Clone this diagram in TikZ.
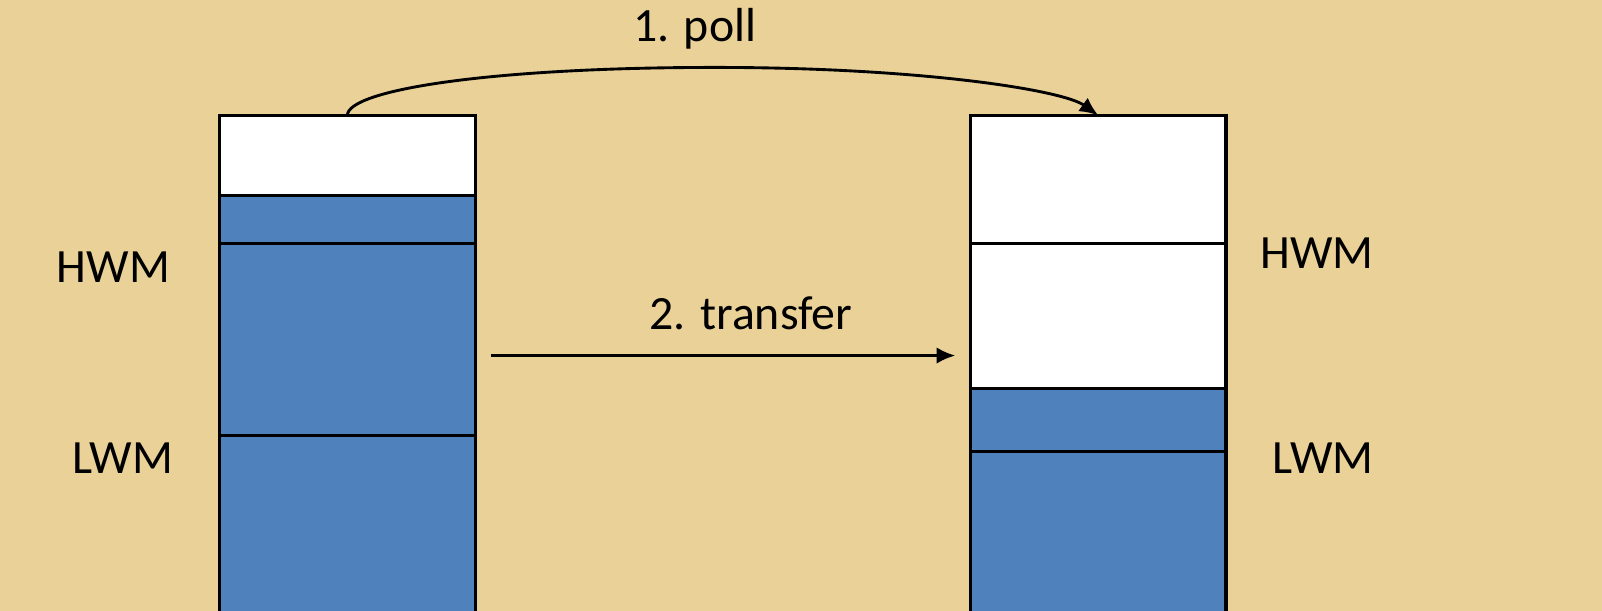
\documentclass[tikz,border=0pt]{standalone}
\usepackage{fontspec}
\setmainfont{Carlito}
\usetikzlibrary{arrows.meta}
\definecolor{papyrus}{RGB}{233,209,152}
\definecolor{qblue}{RGB}{79,129,189}
\tikzset{
  seg/.style={draw=black, line width=0.9pt, inner sep=0pt, outer sep=0pt, minimum width=2.5cm, anchor=north},
  empty/.style={seg, fill=white},
  full/.style={seg, fill=qblue},
  lbl/.style={font=\fontsize{13.3}{15}\selectfont, inner sep=0pt},
  arr/.style={line width=0.8pt, -{Latex[length=5.2pt,width=4.6pt]}}
}
\begin{document}
\begin{tikzpicture}[x=0.01cm,y=-0.01cm]
\useasboundingbox (0,0) rectangle (1568,598);
\clip (0,0) rectangle (1568,598);
\fill[papyrus] (0,0) rectangle (1568,598);
% left queue
\node[empty, minimum height=0.78cm] (l1) at (340,113) {};
\node[full, minimum height=0.47cm] (l2) at (l1.south) {};
\node[full, minimum height=1.88cm] (l3) at (l2.south) {};
\node[full, minimum height=2.0cm] (l4) at (l3.south) {};
% right queue
\node[empty, minimum height=1.25cm] (r1) at (1075,113) {};
\node[empty, minimum height=1.42cm] (r2) at (r1.south) {};
\node[full, minimum height=0.62cm] (r3) at (r2.south) {};
\node[full, minimum height=1.8cm] (r4) at (r3.south) {};
% labels
\node[lbl, anchor=east] (hl) at (167,262) {HWM};
\node[lbl, anchor=east] (ll) at (170,448) {LWM};
\node[lbl, anchor=east] (hr) at (1345,248) {HWM};
\node[lbl, anchor=east] (lr) at (1345,448) {LWM};
\node[lbl] (poll) at (680,28) {1. poll};
\node[lbl] (tr) at (735,307) {2. transfer};
% arrows
\coordinate (ta) at (481,348);
\coordinate (tb) at (935,348);
\draw[arr] (ta) -- (tb);
\coordinate (pk) at (700,66);
\draw[arr] (l1.north) .. controls (340,88) and (480,66) .. (pk) .. controls (900,66) and (1040,88) .. (r1.north);
\end{tikzpicture}
\end{document}
